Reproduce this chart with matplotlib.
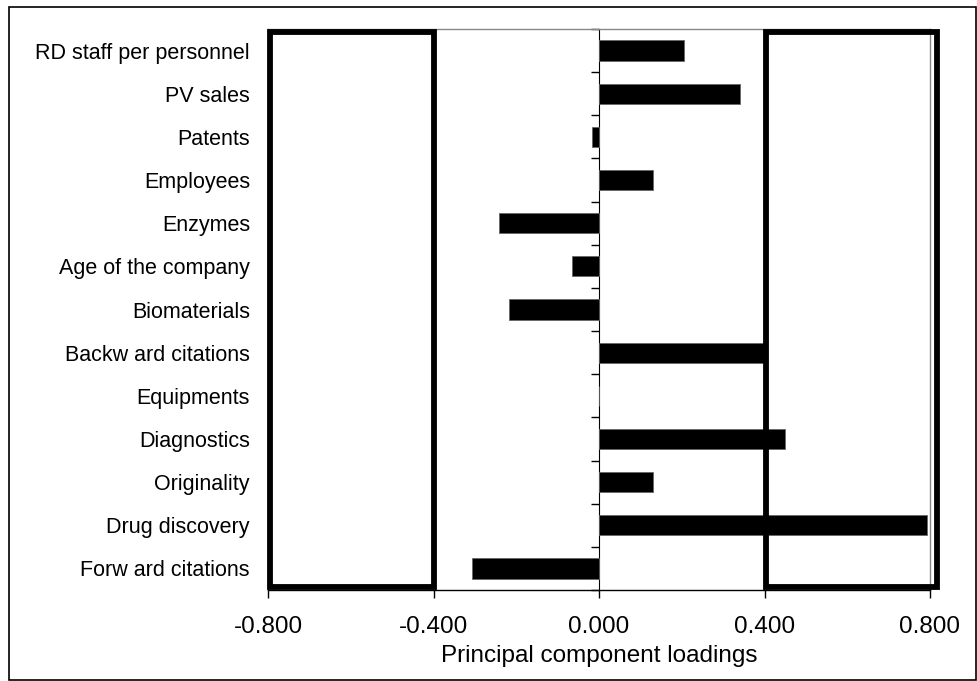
import matplotlib
matplotlib.use("Agg")
import matplotlib.pyplot as plt
from matplotlib.patches import Rectangle
import matplotlib.transforms as mtransforms

plt.rcParams['font.family'] = ['Liberation Sans', 'DejaVu Sans']

# loadings, top to bottom
labels = ["RD staff per personnel", "PV sales", "Patents", "Employees", "Enzymes",
          "Age of the company", "Biomaterials", "Backw ard citations", "Equipments",
          "Diagnostics", "Originality", "Drug discovery", "Forw ard citations"]
loadings = [0.205, 0.34, -0.018, 0.13, -0.242, -0.066, -0.217, 0.40, 0.0,
            0.450, 0.13, 0.792, -0.308]
xticks = [-0.8, -0.4, 0.0, 0.4, 0.8]
boxes = [(-0.795, -0.399), (0.404, 0.818)]

W, H = 978, 681
fig = plt.figure(figsize=(W / 100, H / 100), dpi=100)
ax = fig.add_axes([268 / W, 1 - 590 / H, (930 - 268) / W, (590 - 29) / H])

pos = list(range(len(labels)))
ax.barh(pos, loadings, height=0.47, color='black', edgecolor='#666666', linewidth=0.6, zorder=3)

ax.set_xlim(-0.8, 0.8)
ax.set_ylim(len(labels) - 0.5, -0.5)
ax.set_xticks(xticks)
ax.set_xticklabels(["%.3f" % v for v in xticks], fontsize=17.5)
ax.tick_params(axis='x', direction='out', length=6, width=1, pad=12.5, colors='black')
ax.set_yticks(pos)
ax.set_yticklabels(labels, fontsize=15.5)
ax.tick_params(axis='y', length=0, pad=13)
ax.set_xlabel("Principal component loadings", fontsize=17.5, labelpad=5)

for side in ['top', 'right', 'left']:
    ax.spines[side].set_color('#888888')
    ax.spines[side].set_linewidth(1)
ax.spines['bottom'].set_color('black')
ax.spines['bottom'].set_linewidth(1)

# vertical axis through zero with ticks at category boundaries (pointing left)
zax = ax.secondary_yaxis(0.5)
zax.set_yticks([p - 0.5 for p in pos] + [len(labels) - 0.5])
zax.set_yticklabels([])
zax.tick_params(direction='in', length=6, width=1, colors='black')
zax.spines['left'].set_color('black')
zax.spines['left'].set_linewidth(1.3)

# thick highlight boxes
trans = mtransforms.blended_transform_factory(ax.transData, ax.transAxes)
for x0, x1 in boxes:
    ax.add_patch(Rectangle((x0, 0.005), x1 - x0, 0.99, transform=trans, fill=False,
                           edgecolor='black', linewidth=4.2, clip_on=False, zorder=4))

# outer frame
fig.add_artist(Rectangle((9 / W, 1 / H), (976 - 9) / W, (674 - 1) / H, transform=fig.transFigure,
                         fill=False, edgecolor='black', linewidth=1.2))

fig.savefig("out.png", dpi=100)
